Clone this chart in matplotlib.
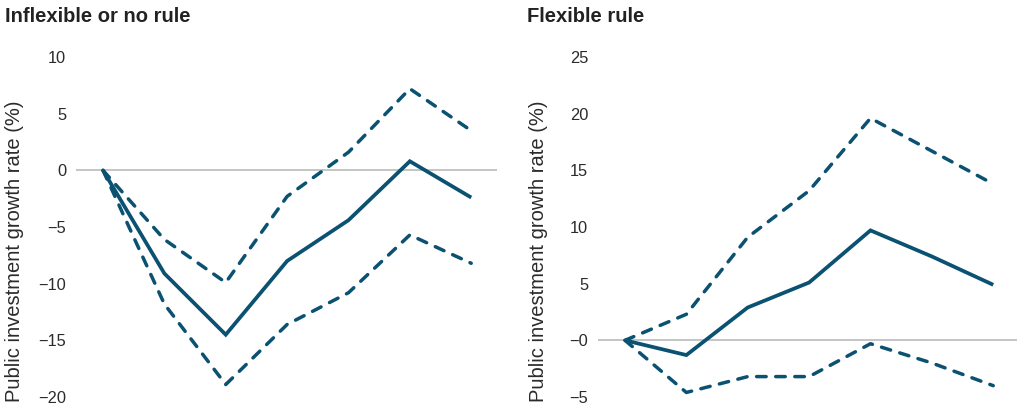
import matplotlib
matplotlib.use("Agg")
import matplotlib.pyplot as plt

plt.rcParams["font.family"] = ["Liberation Sans", "DejaVu Sans"]

# Period index after the rule change
periods = [0, 1, 2, 3, 4, 5, 6]

# Inflexible or no rule: estimate with upper and lower bands (%)
inflex_mid = [0.0, -9.1, -14.5, -8.0, -4.4, 0.8, -2.4]
inflex_upper = [0.0, -6.1, -9.9, -2.3, 1.6, 7.2, 3.5]
inflex_lower = [0.0, -11.8, -18.9, -13.6, -10.8, -5.7, -8.2]

# Flexible rule: estimate with upper and lower bands (%)
flex_mid = [0.0, -1.3, 2.9, 5.1, 9.7, 7.4, 4.9]
flex_upper = [0.0, 2.3, 9.1, 13.2, 19.6, 16.7, 13.8]
flex_lower = [0.0, -4.6, -3.2, -3.2, -0.3, -2.0, -4.0]

inflex_ticks = [-20, -15, -10, -5, 0, 5, 10]
inflex_ticklabels = ["\u221220", "\u221215", "\u221210", "\u22125", "0", "5", "10"]
flex_ticks = [-5, 0, 5, 10, 15, 20, 25]
flex_ticklabels = ["\u22125", "\u22120", "5", "10", "15", "20", "25"]

titles = ["Inflexible or no rule", "Flexible rule"]
ylabel = "Public investment growth rate (%)"

LINE = "#0b5171"
TEXT = "#2b2b2b"
ZERO = "#b5b5b5"
W, H = 1017, 408

fig = plt.figure(figsize=(W / 100, H / 100), dpi=100)

panels = [
    (76, inflex_mid, inflex_upper, inflex_lower, inflex_ticks, inflex_ticklabels, 5, 15),
    (598, flex_mid, flex_upper, flex_lower, flex_ticks, flex_ticklabels, 527, 538),
]

for i, (x0, mid, up, lo, ticks, tlabels, title_x, ylab_x) in enumerate(panels):
    ax = fig.add_axes([x0 / W, (H - 397) / H, 421 / W, 340 / H])
    ax.axhline(0, color=ZERO, lw=1.1, zorder=1)
    dash = (0, (2.75, 2.75))
    ax.plot(periods, up, color=LINE, lw=2.5, linestyle=dash,
            dash_capstyle="round", dash_joinstyle="round", zorder=3)
    ax.plot(periods, lo, color=LINE, lw=2.5, linestyle=dash,
            dash_capstyle="round", dash_joinstyle="round", zorder=3)
    ax.plot(periods, mid, color=LINE, lw=2.7, solid_capstyle="butt",
            solid_joinstyle="miter", zorder=4)
    ax.set_xlim(-0.44, 6.42)
    ax.set_ylim(ticks[0], ticks[-1])
    ax.set_xticks([])
    ax.set_yticks(ticks)
    ax.set_yticklabels(tlabels)
    ax.tick_params(axis="y", length=0, pad=7, labelsize=11.8, labelcolor=TEXT)
    for s in ax.spines.values():
        s.set_visible(False)
    ax.patch.set_alpha(0)
    for lab in ax.get_yticklabels():
        lab.set_clip_on(False)

    fig.text(title_x / W, 1 - 16 / H, titles[i], fontsize=14.5, fontweight="bold",
             color="#222222", ha="left", va="center")
    fig.text(ylab_x / W, 1 - 251 / H, ylabel, fontsize=14.5, color=TEXT,
             rotation=90, ha="center", va="center")

fig.savefig("out.png", dpi=100)
